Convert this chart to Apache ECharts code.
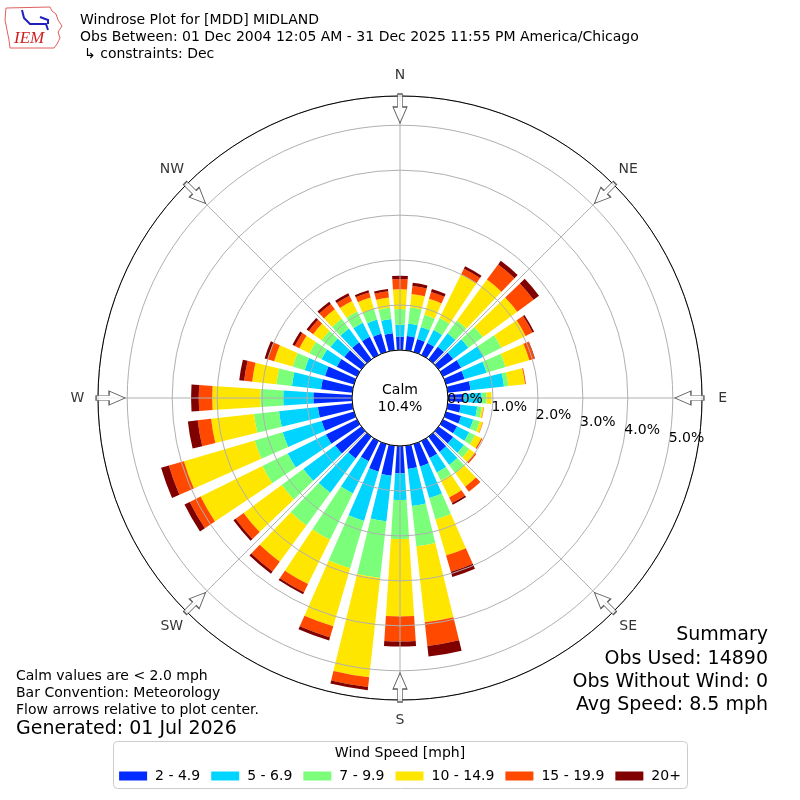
<!DOCTYPE html>
<html><head><meta charset="utf-8">
<script src="https://cdn.jsdelivr.net/npm/echarts@6/dist/echarts.min.js"></script>
<style>html,body{margin:0;padding:0;background:#fff}#c{width:800px;height:800px}</style>
</head><body><div id="c"></div>
<script>
// Direction bins (degrees, meteorological convention)
const directions = ['0','10','20','30','40','50','60','70','80','90','100','110','120','130','140','150','160','170',
  '180','190','200','210','220','230','240','250','260','270','280','290','300','310','320','330','340','350'];
const speedBins = ['2 - 4.9','5 - 6.9','7 - 9.9','10 - 14.9','15 - 19.9','20+'];
const binColors = ['#002bff','#00d4ff','#7bff7b','#ffe600','#ff4800','#800000'];
// Percent frequency per direction for each speed bin
const speed2to5   = [0.30,0.32,0.30,0.30,0.35,0.40,0.45,0.43,0.51,0.35,0.29,0.35,0.35,0.40,0.42,0.42,0.52,0.52,0.61,0.67,0.64,0.50,0.60,0.72,0.77,0.75,0.77,0.86,0.70,0.67,0.50,0.47,0.47,0.45,0.42,0.38];
const speed5to7   = [0.26,0.28,0.28,0.32,0.37,0.42,0.55,0.51,0.75,0.40,0.37,0.28,0.30,0.30,0.36,0.36,0.73,0.83,0.59,1.02,1.14,0.80,0.95,0.88,0.95,0.90,0.87,0.67,0.65,0.47,0.38,0.38,0.38,0.35,0.33,0.32];
const speed7to10  = [0.35,0.36,0.28,0.30,0.35,0.40,0.45,0.44,0.10,0.11,0.10,0.15,0.15,0.15,0.23,0.20,0.50,0.90,0.87,1.27,1.10,1.15,0.90,0.60,0.63,0.65,0.56,0.51,0.35,0.28,0.30,0.25,0.27,0.28,0.25,0.25];
const speed10to15 = [0.44,0.30,0.37,1.08,1.13,0.95,0.60,0.55,0.37,0.11,0.04,0.07,0.15,0.15,0.37,0.42,0.83,1.70,1.72,2.22,1.34,1.10,1.00,1.05,1.53,1.64,0.96,1.07,0.54,0.43,0.25,0.23,0.26,0.26,0.26,0.23];
const speed15to20 = [0.23,0.18,0.16,0.14,0.42,0.45,0.17,0.12,0.02,0.00,0.01,0.01,0.03,0.04,0.14,0.14,0.38,0.53,0.56,0.22,0.26,0.20,0.27,0.22,0.27,0.35,0.30,0.30,0.18,0.15,0.11,0.12,0.15,0.13,0.12,0.14];
const speed20plus = [0.07,0.07,0.07,0.06,0.10,0.15,0.04,0.01,0.00,0.00,0.00,0.00,0.00,0.00,0.00,0.04,0.12,0.24,0.11,0.07,0.07,0.05,0.06,0.06,0.13,0.18,0.22,0.17,0.11,0.07,0.06,0.06,0.06,0.06,0.05,0.05];
const compassAngles = [0,45,90,135,180,225,270,315];
const compassLabels = ['N','NE','E','SE','S','SW','W','NW'];
const radialTicks = [0,1,2,3,4,5];
const radialMax = 5.65;
const arrowRadius = 5.37;
const compassLabelRadius = 6.11;
const calmPct = '10.4%';

const FONT = 'DejaVu Sans';
const seriesData = [speed2to5, speed5to7, speed7to10, speed10to15, speed15to20, speed20plus];
const CENTER = [400, 398];
const RADIUS = [48, 302];

const barSeries = seriesData.map((arr, i) => ({
  name: speedBins[i], type: 'bar', coordinateSystem: 'polar', polarIndex: 0,
  stack: 'rose', data: arr, barCategoryGap: '26%',
  itemStyle: { color: binColors[i] }, silent: true, z: 2
}));

const arrowPath = 'path://M4.5,0 L9.5,0 L9.5,13 L14,13 L7,29 L0,13 L4.5,13 Z';

const option = {
  animation: false,
  backgroundColor: '#fff',
  textStyle: { fontFamily: FONT },
  legend: {
    data: speedBins, left: 'center', top: 764, icon: 'rect',
    itemWidth: 28, itemHeight: 9, itemGap: 11,
    textStyle: { fontFamily: FONT, fontSize: 14, color: '#000', padding: [0,0,0,3] },
    selectedMode: false, z: 5
  },
  polar: [
    { center: CENTER, radius: RADIUS },
    { center: CENTER, radius: RADIUS },
    { center: CENTER, radius: RADIUS }
  ],
  angleAxis: [
    { polarIndex: 0, type: 'category', data: directions, startAngle: 95, clockwise: true,
      axisLine: {show:false}, axisTick: {show:false}, axisLabel: {show:false}, splitLine: {show:false} },
    { polarIndex: 1, type: 'value', min: 0, max: 360, interval: 45, startAngle: 90, clockwise: true, z: 4,
      axisLine: {show:true, lineStyle:{color:'#000', width:1}},
      axisTick: {show:false},
      splitLine: {show:true, lineStyle:{color:'#b0b0b0', width:1}},
      axisLabel: {show:false} },
    { polarIndex: 2, type: 'value', min: 0, max: 360, startAngle: -10, clockwise: true, show: false,
      axisLine:{show:false}, axisTick:{show:false}, axisLabel:{show:false}, splitLine:{show:false} }
  ],
  radiusAxis: [
    { polarIndex: 0, type: 'value', min: 0, max: radialMax,
      axisLine:{show:false}, axisTick:{show:false}, axisLabel:{show:false}, splitLine:{show:false} },
    { polarIndex: 1, type: 'value', min: 0, max: radialMax, interval: 1, z: 3,
      axisLine:{show:false}, axisTick:{show:false}, axisLabel:{show:false},
      splitLine:{show:true, lineStyle:{color:'#b0b0b0', width:1}} },
    { polarIndex: 2, type: 'value', min: 0, max: radialMax, interval: 1, z: 10,
      axisLine:{show:false}, axisTick:{show:false}, splitLine:{show:false},
      axisLabel:{show:true, margin: 0, align:'left', verticalAlign:'bottom', fontSize: 14, fontFamily: FONT, color:'#000',
        formatter: v => radialTicks.indexOf(v) >= 0 ? v.toFixed(1) + '%' : ''} }
  ],
  series: barSeries.concat([{
    type: 'scatter', coordinateSystem: 'polar', polarIndex: 1, silent: true, z: 20,
    symbol: arrowPath, symbolSize: [14, 29], symbolKeepAspect: false,
    data: compassAngles.map(a => ({ value: [arrowRadius, a], symbolRotate: -a })),
    itemStyle: { color: '#fff', borderColor: '#333', borderWidth: 1 }
  }, {
    type: 'scatter', coordinateSystem: 'polar', polarIndex: 1, silent: true, z: 20, clip: false,
    symbol: 'circle', symbolSize: 0,
    data: compassAngles.map((a, i) => ({ value: [compassLabelRadius, a], name: compassLabels[i] })),
    label: { show: true, position: 'inside', formatter: p => p.name, color: '#000', fontSize: 14, fontFamily: FONT,
      align: 'center', verticalAlign: 'middle' }
  }]),
  graphic: [
    // legend box
    { type: 'rect', z: 1, shape: { x: 113.5, y: 741.5, width: 574, height: 47, r: 4 },
      style: { fill: '#fff', stroke: '#cccccc', lineWidth: 1 } },
    { type: 'text', z: 6, x: 400, y: 753, style: { text: 'Wind Speed [mph]', font: '14px "DejaVu Sans"', fill: '#000', align: 'center', verticalAlign: 'middle' } },
    // titles
    { type: 'text', x: 80, y: 20, style: { text: 'Windrose Plot for [MDD] MIDLAND', font: '14px "DejaVu Sans"', fill: '#000', verticalAlign: 'middle' } },
    { type: 'text', x: 80, y: 37, style: { text: 'Obs Between: 01 Dec 2004 12:05 AM - 31 Dec 2025 11:55 PM America/Chicago', font: '14px "DejaVu Sans"', fill: '#000', verticalAlign: 'middle' } },
    { type: 'text', x: 84, y: 54, style: { text: '↳ constraints: Dec', font: '14px "DejaVu Sans"', fill: '#000', verticalAlign: 'middle' } },
    // calm
    { type: 'text', z: 30, x: 400, y: 390, style: { text: 'Calm', font: '14px "DejaVu Sans"', fill: '#000', align: 'center', verticalAlign: 'middle' } },
    { type: 'text', z: 30, x: 400, y: 407, style: { text: calmPct, font: '14px "DejaVu Sans"', fill: '#000', align: 'center', verticalAlign: 'middle' } },
    // bottom-left notes
    { type: 'text', x: 16, y: 676, style: { text: 'Calm values are < 2.0 mph', font: '14px "DejaVu Sans"', fill: '#000', verticalAlign: 'middle' } },
    { type: 'text', x: 16, y: 693, style: { text: 'Bar Convention: Meteorology', font: '14px "DejaVu Sans"', fill: '#000', verticalAlign: 'middle' } },
    { type: 'text', x: 16, y: 710, style: { text: 'Flow arrows relative to plot center.', font: '14px "DejaVu Sans"', fill: '#000', verticalAlign: 'middle' } },
    { type: 'text', x: 16, y: 729, style: { text: 'Generated: 01 Jul 2026', font: '19px "DejaVu Sans"', fill: '#000', verticalAlign: 'middle' } },
    // summary
    { type: 'text', x: 768, y: 635, style: { text: 'Summary', font: '19px "DejaVu Sans"', fill: '#000', align: 'right', verticalAlign: 'middle' } },
    { type: 'text', x: 768, y: 659, style: { text: 'Obs Used: 14890', font: '19px "DejaVu Sans"', fill: '#000', align: 'right', verticalAlign: 'middle' } },
    { type: 'text', x: 768, y: 682, style: { text: 'Obs Without Wind: 0', font: '19px "DejaVu Sans"', fill: '#000', align: 'right', verticalAlign: 'middle' } },
    { type: 'text', x: 768, y: 705, style: { text: 'Avg Speed: 8.5 mph', font: '19px "DejaVu Sans"', fill: '#000', align: 'right', verticalAlign: 'middle' } },
    // IEM logo (approximation)
    { type: 'polyline', shape: { points: [[6,8],[50,7],[52,11],[56,14],[58,20],[62,26],[58,32],[60,38],[57,44],[54,48],[10,48],[9,40],[7,30],[5,20],[6,8]] },
      style: { stroke: '#e06060', lineWidth: 1, fill: 'none' } },
    { type: 'text', x: 14, y: 39, style: { text: 'IEM', font: 'italic 17px "Liberation Serif"', fill: '#d02020', verticalAlign: 'middle' } },
    { type: 'polyline', shape: { points: [[22,10],[24,18],[30,24],[46,24],[48,30]] }, style: { stroke: '#2020c0', lineWidth: 2, fill: 'none' } },
    { type: 'polyline', shape: { points: [[40,17],[48,20],[48,24]] }, style: { stroke: '#2020c0', lineWidth: 2, fill: 'none' } }
  ]
};

const chart = echarts.init(document.getElementById('c'), null, { renderer: 'canvas' });
chart.setOption(option);
</script>
</body></html>
